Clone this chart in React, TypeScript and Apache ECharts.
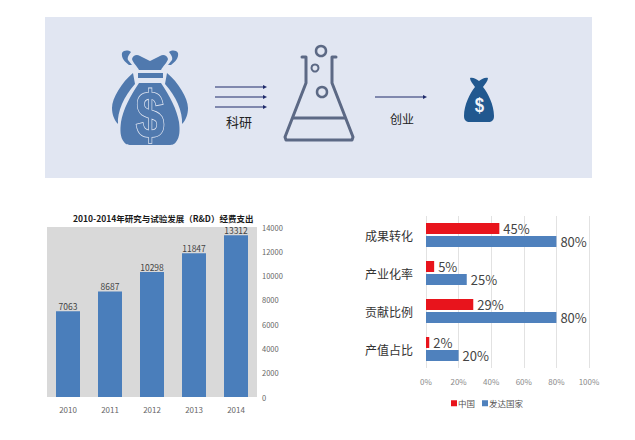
import React, { useEffect, useRef } from "react";
import * as echarts from "echarts";

const years = ["2010", "2011", "2012", "2013", "2014"];
const spending = [7063, 8687, 10298, 11847, 13312];
const metrics = ["成果转化", "产业化率", "贡献比例", "产值占比"];
const china = [45, 5, 29, 2];
const developed = [80, 25, 80, 20];
const chartTitle = "2010-2014年研究与试验发展（R&D）经费支出";
const stepOne = "科研";
const stepTwo = "创业";

const cjk = '"Noto Sans CJK SC", "Liberation Sans", sans-serif';
const PANEL = "#e1e6f2";
const BAG = "#5079ae";
const FLASK = "#5c6985";
const ARROW = "#1f2a6b";

const reg = (name: string, d: string) =>
  echarts.graphic.registerShape(name, echarts.graphic.extendPath(d, {}));

reg("bagKnot", "M132,59 C133,55 137,54 140,56 L150,61 L160,56 C163,54 167,55 168,59 C167,63 163,66 161,70 L139,70 C137,66 133,63 132,59 Z");
reg("bagTasselL", "M122,53 C124,50 128,50 131,52 C129,55 127,57 128,60 L132,65 L129,65 C125,62 121,58 122,53 Z");
reg("bagTasselR", "M178,53 C176,50 172,50 169,52 C171,55 173,57 172,60 L168,65 L171,65 C175,62 179,58 178,53 Z");
reg("bagWingL", "M133,73 C122,82 112,98 112,108 C112,114 114,120 118,124 C117,112 124,96 135,84 Z");
reg("bagWingR", "M167,73 C178,82 188,98 188,108 C188,114 186,120 182,124 C183,112 176,96 165,84 Z");
reg("bagBody", "M139,83 L161,83 C170,96 177,110 179,122 C180,130 180,137 176,142 C174,145 171,145 168,145 L132,145 C129,145 126,145 124,142 C120,137 120,130 121,122 C123,110 130,96 139,83 Z");
reg("smallBag", "M470,78 C473,77 476,79 479,81 C482,79 485,77 488,78 C488,81 485,84 483,87 C488,93 494,105 494,116 C494,120 492,122 488,122 L470,122 C466,122 464,120 464,116 C464,105 470,93 475,87 C473,84 470,81 470,78 Z");

const arrow = (x1: number, x2: number, y: number) => [
  { type: "line", shape: { x1, y1: y, x2: x2 - 3, y2: y }, style: { stroke: ARROW, lineWidth: 1 } },
  { type: "polygon", shape: { points: [[x2 - 4, y - 2], [x2, y], [x2 - 4, y + 2]] }, style: { fill: ARROW } },
];
const bubble = (cx: number, cy: number, r: number, lw: number) => ({
  type: "circle", shape: { cx, cy, r }, style: { fill: "none", stroke: FLASK, lineWidth: lw },
});

const graphicElements = [
  { type: "rect", shape: { x: 45, y: 17, width: 547, height: 161 }, style: { fill: PANEL } },
  ...["bagKnot", "bagTasselL", "bagTasselR", "bagWingL", "bagWingR", "bagBody"].map((type) => ({ type, style: { fill: BAG } })),
  { type: "rect", shape: { x: 138, y: 73, width: 25, height: 5 }, style: { fill: BAG } },
  { type: "text", x: 150, y: 115, scaleX: 0.78, style: { text: "$", fill: BAG, stroke: PANEL, lineWidth: 1.6, font: 'bold 66px "Liberation Sans", sans-serif', align: "center", verticalAlign: "middle" } },
  ...arrow(215, 267, 87),
  ...arrow(215, 267, 97),
  ...arrow(215, 267, 107),
  { type: "text", x: 239, y: 121, style: { text: stepOne, fill: "#222", font: `13px ${cjk}`, align: "center", verticalAlign: "middle" } },
  { type: "polyline", shape: { points: [[302, 57], [306, 57], [306, 83], [285, 137], [286, 140], [352, 140], [353, 137], [332, 83], [332, 57], [336, 57]] }, style: { fill: "none", stroke: FLASK, lineWidth: 3, lineCap: "round", lineJoin: "round" } },
  { type: "line", shape: { x1: 293, y1: 118, x2: 345, y2: 118 }, style: { stroke: FLASK, lineWidth: 3 } },
  bubble(321, 51, 5, 2.5),
  bubble(315, 68, 3.5, 2),
  bubble(322, 92, 5, 2.5),
  ...arrow(375, 427, 97),
  { type: "text", x: 402, y: 118, style: { text: stepTwo, fill: "#222", font: `12px ${cjk}`, align: "center", verticalAlign: "middle" } },
  { type: "smallBag", style: { fill: "#21588f" } },
  { type: "text", x: 479.5, y: 105, scaleX: 0.8, style: { text: "$", fill: "#f2f5fa", font: 'bold 21px "Liberation Sans", sans-serif', align: "center", verticalAlign: "middle" } },
];

export default function App() {
  const ref = useRef<HTMLDivElement>(null);
  useEffect(() => {
    const chart = echarts.init(ref.current!, null, { renderer: "svg" });
    chart.setOption({
      animation: false,
      backgroundColor: "#ffffff",
      textStyle: { fontFamily: cjk },
      title: {
        text: chartTitle,
        left: 73,
        top: 214,
        padding: 0,
        textStyle: { fontSize: 8.5, fontWeight: "bold", color: "#1a1a1a", fontFamily: cjk },
      },
      legend: {
        data: [
          { name: "中国", icon: "rect" },
          { name: "发达国家", icon: "rect" },
        ],
        left: 451,
        top: 399,
        padding: 0,
        itemWidth: 6,
        itemHeight: 6,
        itemGap: 7,
        textStyle: { fontSize: 8.5, color: "#555", padding: [0, 0, 0, -4] },
      },
      grid: [
        { left: 47, top: 227, width: 210, height: 170, show: true, backgroundColor: "#d9d9d9", borderWidth: 0 },
        { left: 426, top: 216, width: 163, height: 152 },
      ],
      xAxis: [
        {
          type: "category", gridIndex: 0, data: years,
          axisLine: { show: false }, axisTick: { show: false },
          axisLabel: { fontSize: 8, color: "#666", margin: 8 },
        },
        {
          type: "value", gridIndex: 1, min: 0, max: 100, interval: 20,
          axisLine: { show: false }, axisTick: { show: false },
          axisLabel: { fontSize: 8, color: "#8a8a8a", margin: 9, formatter: "{value}%" },
          splitLine: { show: true, lineStyle: { color: "#e2e2e2", width: 1 } },
        },
      ],
      yAxis: [
        {
          type: "value", gridIndex: 0, position: "right", min: 0, max: 14000, interval: 2000,
          axisLine: { show: false }, axisTick: { show: false }, splitLine: { show: false },
          axisLabel: { fontSize: 7.5, color: "#666", margin: 5, formatter: (v: number) => String(v) },
        },
        {
          type: "category", gridIndex: 1, data: metrics, inverse: true,
          axisLine: { show: false }, axisTick: { show: false },
          axisLabel: { fontSize: 12, color: "#333", margin: 13 },
        },
      ],
      series: [
        {
          type: "bar", name: "经费支出", xAxisIndex: 0, yAxisIndex: 0, data: spending, barWidth: 24,
          itemStyle: { color: "#4a7ebb" },
          label: { show: true, position: "top", distance: 1, fontSize: 8.5, color: "#444" },
        },
        {
          type: "bar", name: "中国", xAxisIndex: 1, yAxisIndex: 1, data: china, barWidth: 11, barGap: "18%",
          itemStyle: { color: "#e8141c" },
          label: { show: true, position: "right", distance: 4, fontSize: 13, color: "#444", formatter: "{c}%" },
        },
        {
          type: "bar", name: "发达国家", xAxisIndex: 1, yAxisIndex: 1, data: developed, barWidth: 11, barGap: "18%",
          itemStyle: { color: "#4f81bd" },
          label: { show: true, position: "right", distance: 4, fontSize: 13, color: "#444", formatter: "{c}%" },
        },
      ],
      graphic: { elements: graphicElements },
    });
    return () => chart.dispose();
  }, []);
  return <div ref={ref} style={{ position: "absolute", left: 0, top: 0, width: 635, height: 440 }} />;
}
